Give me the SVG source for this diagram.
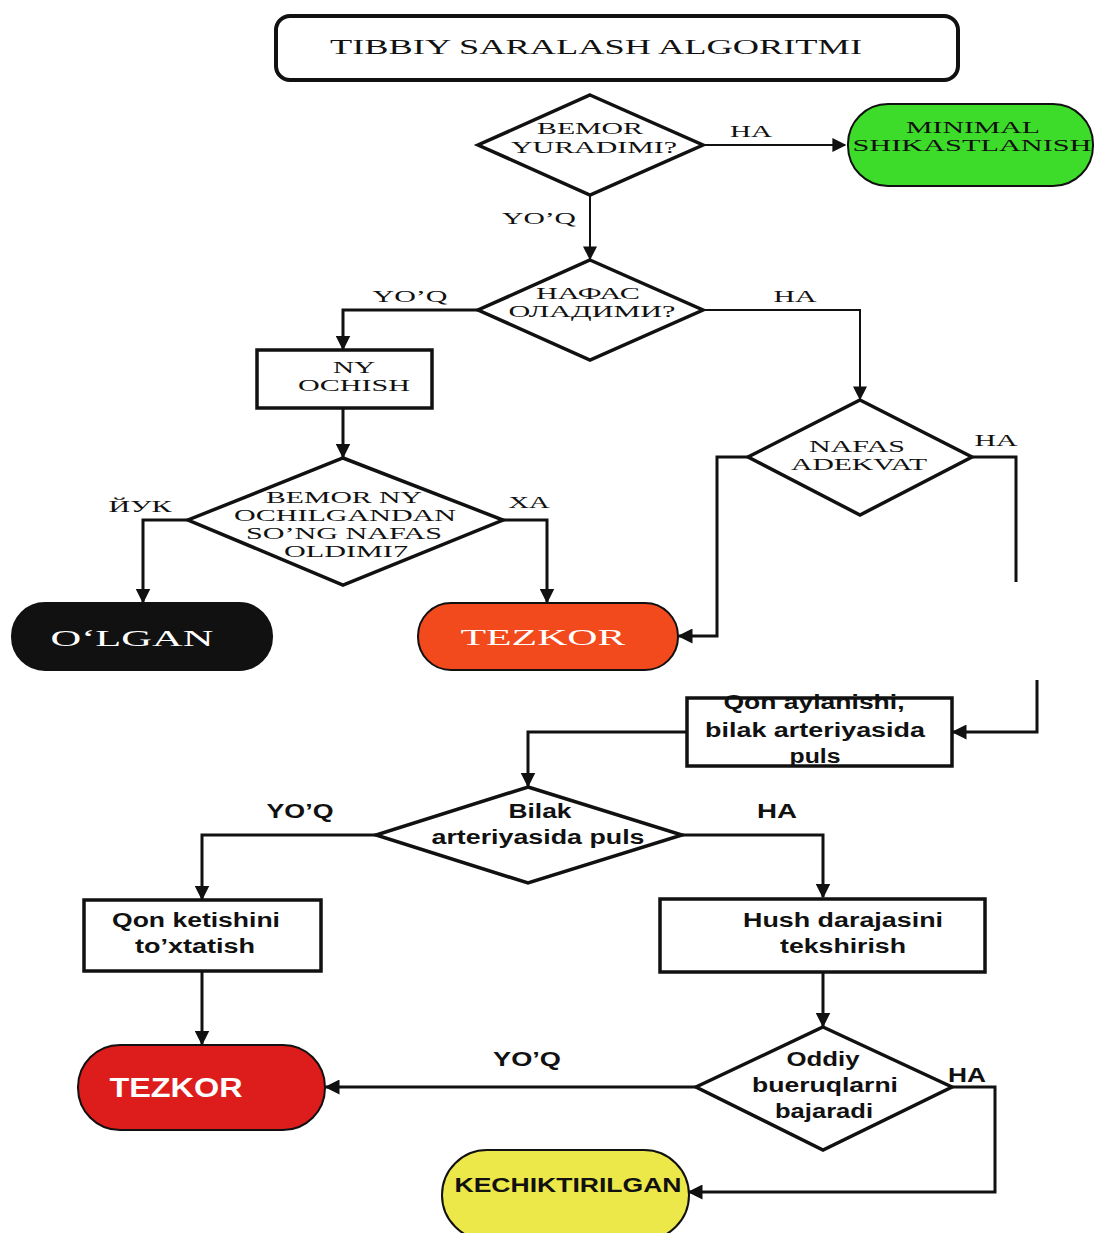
<svg xmlns="http://www.w3.org/2000/svg" width="1096" height="1233" viewBox="0 0 1096 1233">
<style>
.serif{font-family:"Liberation Serif","Times New Roman",serif;fill:#111;text-anchor:middle}
.sans{font-family:"Liberation Sans",Arial,sans-serif;font-weight:bold;fill:#111;text-anchor:middle}
.shape{fill:#fff;stroke:#111;stroke-width:3.5}
.conn{fill:none;stroke:#111;stroke-width:3}
.thin{fill:none;stroke:#111;stroke-width:2}
.lbl{font-size:17px}
.w{fill:#fff}
</style>
<defs>
<marker id="ah" viewBox="0 0 10 10" refX="9" refY="5" markerWidth="5" markerHeight="5" markerUnits="strokeWidth" orient="auto">
<path d="M0,0 L10,5 L0,10 z" fill="#111"/>
</marker>
<marker id="ah2" viewBox="0 0 10 10" refX="9" refY="5" markerWidth="7" markerHeight="7" markerUnits="strokeWidth" orient="auto">
<path d="M0,0 L10,5 L0,10 z" fill="#111"/>
</marker>
</defs>
<rect width="1096" height="1233" fill="#fff"/>

<g id="title">
<rect x="276" y="16" width="682" height="64" rx="14" fill="#fff" stroke="#111" stroke-width="4"/>
<text class="serif" x="596" y="54" font-size="21" textLength="532" lengthAdjust="spacingAndGlyphs">TIBBIY SARALASH ALGORITMI</text>
</g>

<g id="connectors">
<path class="thin" d="M703,145 H845" marker-end="url(#ah2)"/>
<path class="thin" d="M590,195 V259" marker-end="url(#ah2)"/>
<path class="conn" d="M478,310 H343 V349" marker-end="url(#ah)"/>
<path class="thin" d="M703,310 H860 V399" marker-end="url(#ah2)"/>
<path class="conn" d="M343,408 V457" marker-end="url(#ah)"/>
<path class="conn" d="M188,520 H143 V602" marker-end="url(#ah)"/>
<path class="conn" d="M503,520 H547 V602" marker-end="url(#ah)"/>
<path class="conn" d="M748,457 H717 V636 H679" marker-end="url(#ah)"/>
<path class="conn" d="M972,457 H1016 V582"/>
<path class="conn" d="M1037,680 V732 H953" marker-end="url(#ah)"/>
<path class="conn" d="M687,732 H528 V786" marker-end="url(#ah)"/>
<path class="conn" d="M376,835 H202 V899" marker-end="url(#ah)"/>
<path class="conn" d="M682,835 H823 V897" marker-end="url(#ah)"/>
<path class="conn" d="M202,971 V1044" marker-end="url(#ah)"/>
<path class="conn" d="M823,972 V1026" marker-end="url(#ah)"/>
<path class="conn" d="M696,1087 H326" marker-end="url(#ah)"/>
<path class="conn" d="M952,1087 H995 V1192 H689" marker-end="url(#ah)"/>
<text class="serif lbl" x="751" y="137" textLength="42" lengthAdjust="spacingAndGlyphs">HA</text>
<text class="serif lbl" x="539" y="224" textLength="74" lengthAdjust="spacingAndGlyphs">YO’Q</text>
<text class="serif lbl" x="410" y="302" textLength="75" lengthAdjust="spacingAndGlyphs">YO’Q</text>
<text class="serif lbl" x="795" y="302" textLength="43" lengthAdjust="spacingAndGlyphs">HA</text>
<text class="serif lbl" x="140" y="512" textLength="63" lengthAdjust="spacingAndGlyphs">ЙУК</text>
<text class="serif lbl" x="529" y="508" textLength="41" lengthAdjust="spacingAndGlyphs">XA</text>
<text class="serif lbl" x="996" y="446" textLength="43" lengthAdjust="spacingAndGlyphs">HA</text>
<text class="sans" x="300" y="818" font-size="20" textLength="67" lengthAdjust="spacingAndGlyphs">YO’Q</text>
<text class="sans" x="777" y="818" font-size="20" textLength="40" lengthAdjust="spacingAndGlyphs">HA</text>
<text class="sans" x="527" y="1066" font-size="20" textLength="68" lengthAdjust="spacingAndGlyphs">YO’Q</text>
<text class="sans" x="967" y="1082" font-size="20" textLength="38" lengthAdjust="spacingAndGlyphs">HA</text>
</g>

<g id="d_yuradimi">
<polygon class="shape" points="590,95 703,145 590,195 478,145"/>
<text class="serif" x="590" y="134" font-size="17" textLength="106" lengthAdjust="spacingAndGlyphs">BEMOR</text>
<text class="serif" x="594" y="153" font-size="17" textLength="166" lengthAdjust="spacingAndGlyphs">YURADIMI?</text>
</g>

<g id="t_minimal">
<rect x="848" y="104" width="245" height="82" rx="40" fill="#3ddc2a" stroke="#111" stroke-width="2"/>
<text class="serif" x="973" y="133" font-size="17" textLength="134" lengthAdjust="spacingAndGlyphs">MINIMAL</text>
<text class="serif" x="972" y="151" font-size="17" textLength="239" lengthAdjust="spacingAndGlyphs">SHIKASTLANISH</text>
</g>

<g id="d_nafas">
<polygon class="shape" points="590,260 703,310 590,360 478,310"/>
<text class="serif" x="588" y="299" font-size="17" textLength="104" lengthAdjust="spacingAndGlyphs">НАФАС</text>
<text class="serif" x="592" y="317" font-size="17" textLength="167" lengthAdjust="spacingAndGlyphs">ОЛАДИМИ?</text>
</g>

<g id="b_ny">
<rect class="shape" x="257" y="350" width="175" height="58"/>
<text class="serif" x="354" y="373" font-size="17" textLength="42" lengthAdjust="spacingAndGlyphs">NY</text>
<text class="serif" x="354" y="391" font-size="17" textLength="112" lengthAdjust="spacingAndGlyphs">OCHISH</text>
</g>

<g id="d_bemor_ny">
<polygon class="shape" points="343,458 503,520 343,585 188,520"/>
<text class="serif" x="344" y="503" font-size="17" textLength="156" lengthAdjust="spacingAndGlyphs">BEMOR NY</text>
<text class="serif" x="345" y="521" font-size="17" textLength="222" lengthAdjust="spacingAndGlyphs">OCHILGANDAN</text>
<text class="serif" x="344" y="539" font-size="17" textLength="196" lengthAdjust="spacingAndGlyphs">SO’NG NAFAS</text>
<text class="serif" x="346" y="557" font-size="17" textLength="124" lengthAdjust="spacingAndGlyphs">OLDIMI7</text>
</g>

<g id="t_olgan">
<rect x="12" y="603" width="260" height="67" rx="33" fill="#111" stroke="#111" stroke-width="2"/>
<text class="serif w" x="132" y="646" font-size="23" textLength="163" lengthAdjust="spacingAndGlyphs" style="fill:#fff">O‘LGAN</text>
</g>

<g id="t_tezkor1">
<rect x="418" y="603" width="260" height="67" rx="33" fill="#f24a1c" stroke="#111" stroke-width="2"/>
<text class="serif w" x="543" y="645" font-size="23" textLength="165" lengthAdjust="spacingAndGlyphs" style="fill:#fff">TEZKOR</text>
</g>

<g id="d_adekvat">
<polygon class="shape" points="860,400 972,457 860,515 748,457"/>
<text class="serif" x="857" y="452" font-size="17" textLength="96" lengthAdjust="spacingAndGlyphs">NAFAS</text>
<text class="serif" x="859" y="470" font-size="17" textLength="136" lengthAdjust="spacingAndGlyphs">ADEKVAT</text>
</g>

<g id="b_qon_aylanishi">
<rect class="shape" x="687" y="698" width="265" height="68"/>
<text class="sans" x="814" y="709" font-size="20" textLength="181" lengthAdjust="spacingAndGlyphs">Qon aylanishi,</text>
<text class="sans" x="815" y="737" font-size="20" textLength="220" lengthAdjust="spacingAndGlyphs">bilak arteriyasida</text>
<text class="sans" x="815" y="763" font-size="20" textLength="51" lengthAdjust="spacingAndGlyphs">puls</text>
</g>

<g id="d_bilak">
<polygon class="shape" points="528,787 682,835 528,883 376,835"/>
<text class="sans" x="540" y="818" font-size="20" textLength="63" lengthAdjust="spacingAndGlyphs">Bilak</text>
<text class="sans" x="538" y="844" font-size="20" textLength="213" lengthAdjust="spacingAndGlyphs">arteriyasida puls</text>
</g>

<g id="b_qon_ketishi">
<rect class="shape" x="84" y="900" width="237" height="71"/>
<text class="sans" x="196" y="927" font-size="20" textLength="168" lengthAdjust="spacingAndGlyphs">Qon ketishini</text>
<text class="sans" x="195" y="953" font-size="20" textLength="120" lengthAdjust="spacingAndGlyphs">to’xtatish</text>
</g>

<g id="b_hush">
<rect class="shape" x="660" y="899" width="325" height="73"/>
<text class="sans" x="843" y="927" font-size="20" textLength="200" lengthAdjust="spacingAndGlyphs">Hush darajasini</text>
<text class="sans" x="843" y="953" font-size="20" textLength="126" lengthAdjust="spacingAndGlyphs">tekshirish</text>
</g>

<g id="t_tezkor2">
<rect x="78" y="1045" width="247" height="85" rx="42" fill="#dd1c1c" stroke="#111" stroke-width="2"/>
<text class="sans w" x="176" y="1097" font-size="27" textLength="133" lengthAdjust="spacingAndGlyphs" style="fill:#fff">TEZKOR</text>
</g>

<g id="d_oddiy">
<polygon class="shape" points="823,1027 952,1087 823,1150 696,1087"/>
<text class="sans" x="823" y="1066" font-size="20" textLength="73" lengthAdjust="spacingAndGlyphs">Oddiy</text>
<text class="sans" x="825" y="1092" font-size="20" textLength="146" lengthAdjust="spacingAndGlyphs">bueruqlarni</text>
<text class="sans" x="824" y="1118" font-size="20" textLength="98" lengthAdjust="spacingAndGlyphs">bajaradi</text>
</g>

<g id="t_kechiktirilgan">
<rect x="442" y="1150" width="247" height="90" rx="45" fill="#ece84a" stroke="#111" stroke-width="2"/>
<text class="sans" x="568" y="1192" font-size="21" textLength="227" lengthAdjust="spacingAndGlyphs">KECHIKTIRILGAN</text>
</g>
</svg>
